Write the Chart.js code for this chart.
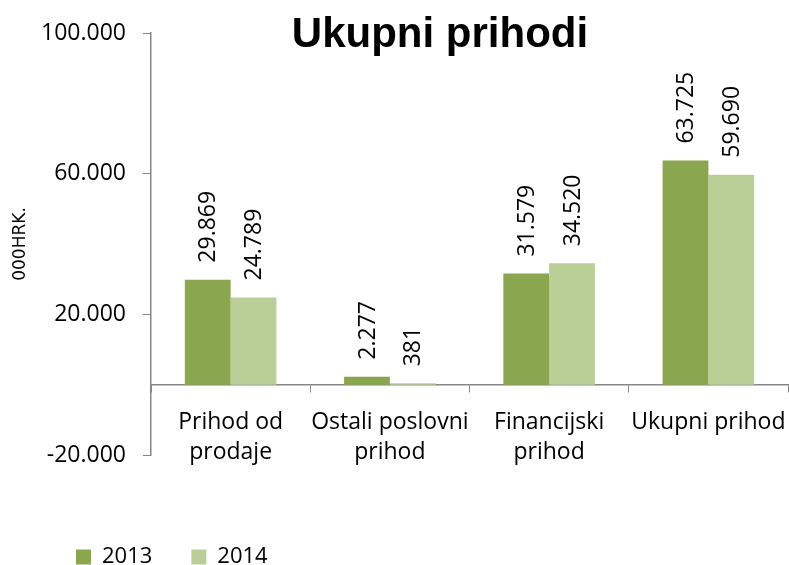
<!DOCTYPE html>
<html>
<head>
<meta charset="utf-8">
<script src="https://cdn.jsdelivr.net/npm/chart.js@4.4.1/dist/chart.umd.min.js"></script>
<style>
  html, body { margin: 0; padding: 0; background: #fff; }
</style>
</head>
<body>
<canvas id="barChart" width="789" height="565"></canvas>
<script>
const categories = [["Prihod od", "prodaje"], ["Ostali poslovni", "prihod"], ["Financijski", "prihod"], "Ukupni prihod"];
const values2013 = [29869, 2277, 31579, 63725];
const values2014 = [24789, 381, 34520, 59690];
const yTicks = [-20000, 20000, 60000, 100000];

const fmt = v => (v < 0 ? "-" : "") + String(Math.abs(v)).replace(/\B(?=(\d{3})+(?!\d))/g, ".");

Chart.defaults.color = "#000";
Chart.defaults.font.family = "'Open Sans', sans-serif";

// naslov preko grafa
const titlePlugin = {
  id: "titlePlugin",
  afterDraw(chart) {
    const ctx = chart.ctx;
    ctx.save();
    ctx.font = "bold 42px 'Liberation Sans', Arial, sans-serif";
    ctx.fillStyle = "#000";
    ctx.textAlign = "center";
    ctx.textBaseline = "alphabetic";
    ctx.fillText("Ukupni prihodi", 440, 47);
    ctx.restore();
  }
};

// vrijednosti iznad stupaca, okrenute
const valueLabels = {
  id: "valueLabels",
  afterDatasetsDraw(chart) {
    const ctx = chart.ctx;
    chart.data.datasets.forEach((ds, i) => {
      chart.getDatasetMeta(i).data.forEach((bar, j) => {
        ctx.save();
        ctx.translate(bar.x + 1, bar.y - 17);
        ctx.rotate(-Math.PI / 2);
        ctx.font = "23px 'Open Sans', sans-serif";
        ctx.fillStyle = "#000";
        ctx.textAlign = "left";
        ctx.textBaseline = "middle";
        ctx.fillText(fmt(ds.data[j]), 0, 0);
        ctx.restore();
      });
    });
  }
};

// legenda dolje lijevo
const legendShift = {
  id: "legendShift",
  afterLayout(chart) {
    const l = chart.legend;
    if (!l) return;
    l.left += 37;
    l.right += 37;
    l.top += 52;
    l.bottom += 52;
  }
};

const ctx = document.getElementById("barChart").getContext("2d");
new Chart(ctx, {
  type: "bar",
  data: {
    labels: categories,
    datasets: [
      { label: "2013", data: values2013, backgroundColor: "#8aa64f", categoryPercentage: 0.575, barPercentage: 1 },
      { label: "2014", data: values2014, backgroundColor: "#b9cf97", categoryPercentage: 0.575, barPercentage: 1 }
    ]
  },
  options: {
    responsive: false,
    devicePixelRatio: 1,
    animation: false,
    layout: { padding: { top: 33, right: 1, bottom: 39, left: 0 } },
    plugins: {
      legend: {
        position: "bottom",
        align: "start",
        labels: {
          boxWidth: 15,
          boxHeight: 15,
          padding: 39,
          font: { size: 22 }
        }
      },
      tooltip: { enabled: false }
    },
    scales: {
      x: {
        position: { y: 0 },
        afterFit(scale) { scale.paddingLeft = 0; scale.paddingRight = 0; },
        grid: { drawOnChartArea: false, drawTicks: true, tickLength: 7, color: "#868686", offset: true },
        border: { display: true, color: "#868686", width: 1.5 },
        ticks: { font: { size: 23, lineHeight: 1.3 }, padding: 16, maxRotation: 0, autoSkip: false }
      },
      y: {
        min: yTicks[0],
        max: yTicks[yTicks.length - 1],
        afterFit(scale) { scale.width = 151; },
        afterBuildTicks(scale) { scale.ticks = yTicks.map(v => ({ value: v })); },
        grid: { drawOnChartArea: false, drawTicks: true, tickLength: 8, color: "#868686" },
        border: { display: true, color: "#868686", width: 1.5 },
        ticks: { font: { size: 23 }, padding: 17, callback: v => fmt(v) },
        title: {
          display: true,
          text: "000HRK.",
          font: { family: "'DejaVu Sans', sans-serif", size: 17 },
          padding: { top: 10, bottom: 0 }
        }
      }
    }
  },
  plugins: [titlePlugin, valueLabels, legendShift]
});
</script>
</body>
</html>
